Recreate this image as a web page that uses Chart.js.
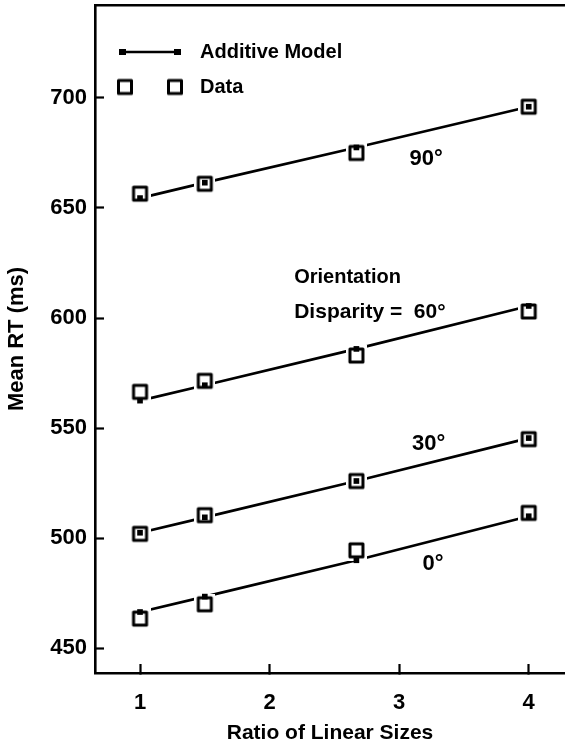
<!DOCTYPE html>
<html><head><meta charset="utf-8">
<script src="https://cdn.jsdelivr.net/npm/chart.js@4.4.0/dist/chart.umd.min.js"></script>
<style>html,body{margin:0;padding:0;background:#fff}#wrap{width:565px;height:754px}</style>
</head><body><div id="wrap"><canvas id="c" width="565" height="754"></canvas></div>
<script>
// ---- data ----
const ratios = [1, 1.5, 2.67, 4];
const model0  = [466.5, 473.5, 490, 510];
const model30 = [502.5, 509.5, 526, 545.5];
const model60 = [562.5, 569.5, 586, 605.5];
const model90 = [654.5, 661.5, 677.5, 696];
const data0  = [463.5, 470, 494.5, 511.5];
const data30 = [502, 510.5, 526, 545];
const data60 = [566.5, 571.5, 583, 603];
const data90 = [656.5, 661, 675, 696];
const xTicks = [1, 2, 3, 4];
const yTicks = [450, 500, 550, 600, 650, 700];
const seriesNames = ['Additive Model', 'Data'];
const xTitle = 'Ratio of Linear Sizes';
const yTitle = 'Mean RT (ms)';
const noteTexts = ['90°', 'Orientation', 'Disparity =  60°', '30°', '0°'];

// ---- styling / layout ----
const FONT = '"Liberation Sans", Arial, Helvetica, sans-serif';
const noteAnchors = [[3.08, 672.5], [2.19, 618.5], [2.19, 602.5], [3.10, 543], [3.18, 488.5]];
const noteSizes = [22, 20, 21, 22, 22];

function toPts(ys) { return ratios.map((r, i) => ({x: r, y: ys[i]})); }

function makeSquareIcon() {
  const c = document.createElement('canvas');
  c.width = 21; c.height = 21;
  const g = c.getContext('2d');
  g.fillStyle = '#fff'; g.fillRect(0, 0, 21, 21);
  g.lineJoin = 'round'; g.lineWidth = 3; g.strokeStyle = '#000';
  g.strokeRect(4, 4, 13, 13);
  return c;
}
function makeModelLegendIcon() {
  const c = document.createElement('canvas');
  c.width = 80; c.height = 10;
  const g = c.getContext('2d');
  g.strokeStyle = '#000'; g.lineWidth = 2.6;
  g.beginPath(); g.moveTo(12.5, 5); g.lineTo(67.5, 5); g.stroke();
  g.fillStyle = '#000';
  g.fillRect(9, 2, 7, 6); g.fillRect(64, 2, 7, 6);
  return c;
}
function makeDataLegendIcon() {
  const c = document.createElement('canvas');
  c.width = 80; c.height = 21;
  const g = c.getContext('2d');
  g.lineJoin = 'round'; g.lineWidth = 3; g.strokeStyle = '#000';
  g.strokeRect(8.5, 4, 13, 13);
  g.strokeRect(58.5, 4, 13, 13);
  return c;
}
const squareIcon = makeSquareIcon();

const modelSets = [model0, model30, model60, model90];
const dataSets = [data0, data30, data60, data90];
const datasets = [];
modelSets.forEach((m, i) => datasets.push({
  label: seriesNames[0] + ' line ' + i, data: toPts(m), showLine: true,
  borderColor: '#000', borderWidth: 2.7, pointRadius: 0, order: 3
}));
dataSets.forEach((d, i) => datasets.push({
  label: seriesNames[1] + ' ' + i, data: toPts(d), showLine: false,
  pointStyle: squareIcon, pointRadius: 9, order: 2
}));
modelSets.forEach((m, i) => datasets.push({
  label: seriesNames[0] + ' ' + i, data: toPts(m), showLine: false,
  pointStyle: 'rect', pointRadius: 4, backgroundColor: '#000', borderColor: '#000', borderWidth: 0, order: 1
}));

const notesPlugin = {
  id: 'notes',
  afterDatasetsDraw(chart) {
    const {ctx, scales: {x, y}} = chart;
    ctx.save();
    ctx.fillStyle = '#000';
    ctx.textAlign = 'left';
    ctx.textBaseline = 'middle';
    noteTexts.forEach((t, i) => {
      ctx.font = 'bold ' + noteSizes[i] + 'px ' + FONT;
      ctx.fillText(t, x.getPixelForValue(noteAnchors[i][0]), y.getPixelForValue(noteAnchors[i][1]));
    });
    ctx.restore();
  }
};

const tickFont = {family: FONT, size: 22, weight: 'bold'};
const titleFont = {family: FONT, size: 21, weight: 'bold'};
const yTitleFont = {family: FONT, size: 22, weight: 'bold'};
function noPad(s) { s.paddingLeft = 0; s.paddingRight = 0; s.paddingTop = 0; s.paddingBottom = 0; }

new Chart(document.getElementById('c'), {
  type: 'scatter',
  data: {datasets},
  options: {
    responsive: false, animation: false, devicePixelRatio: 1,
    layout: {padding: 0, autoPadding: false},
    plugins: {
      tooltip: {enabled: false},
      legend: {
        position: 'chartArea', align: 'start',
        title: {display: true, text: ' ', font: {size: 10}, padding: {top: 15, bottom: 0}},
        labels: {
          usePointStyle: true, pointStyleWidth: 80, padding: 15, color: '#000',
          font: {family: FONT, size: 20, weight: 'bold'},
          generateLabels: () => [
            {text: seriesNames[0], pointStyle: makeModelLegendIcon(), fillStyle: '#000', strokeStyle: '#000', lineWidth: 0, hidden: false, datasetIndex: 0, fontColor: '#000'},
            {text: seriesNames[1], pointStyle: makeDataLegendIcon(), fillStyle: '#fff', strokeStyle: '#000', lineWidth: 0, hidden: false, datasetIndex: 4, fontColor: '#000'}
          ]
        }
      }
    },
    scales: {
      x: {
        type: 'linear', position: 'bottom', min: 0.6525, max: 4.28,
        afterBuildTicks: s => { s.ticks = xTicks.map(v => ({value: v})); },
        afterFit: s => { s.height = 81; noPad(s); },
        grid: {display: true, drawOnChartArea: false, drawTicks: true, tickLength: -9, tickWidth: 2.2, tickColor: '#000'},
        border: {display: true, color: '#000', width: 2.6},
        ticks: {padding: 26, color: '#000', font: tickFont, maxRotation: 0},
        title: {display: true, text: xTitle, color: '#000', font: titleFont, padding: {top: 0, bottom: 8}}
      },
      x2: {
        type: 'linear', position: 'top', min: 0.6525, max: 4.28,
        afterBuildTicks: s => { s.ticks = []; },
        afterFit: s => { s.height = 5; noPad(s); },
        grid: {display: false},
        border: {display: true, color: '#000', width: 2.6},
        ticks: {display: false}
      },
      y: {
        type: 'linear', position: 'left', min: 438.8, max: 742.2,
        afterBuildTicks: s => { s.ticks = yTicks.map(v => ({value: v})); },
        afterFit: s => { s.width = 95; noPad(s); },
        grid: {display: true, drawOnChartArea: false, drawTicks: true, tickLength: -9, tickWidth: 2.2, tickColor: '#000'},
        border: {display: true, color: '#000', width: 2.6},
        ticks: {padding: 17, color: '#000', font: tickFont},
        title: {display: true, text: yTitle, color: '#000', font: yTitleFont, padding: {top: 4, bottom: 0}}
      }
    }
  },
  plugins: [notesPlugin]
});
</script>
</body></html>
